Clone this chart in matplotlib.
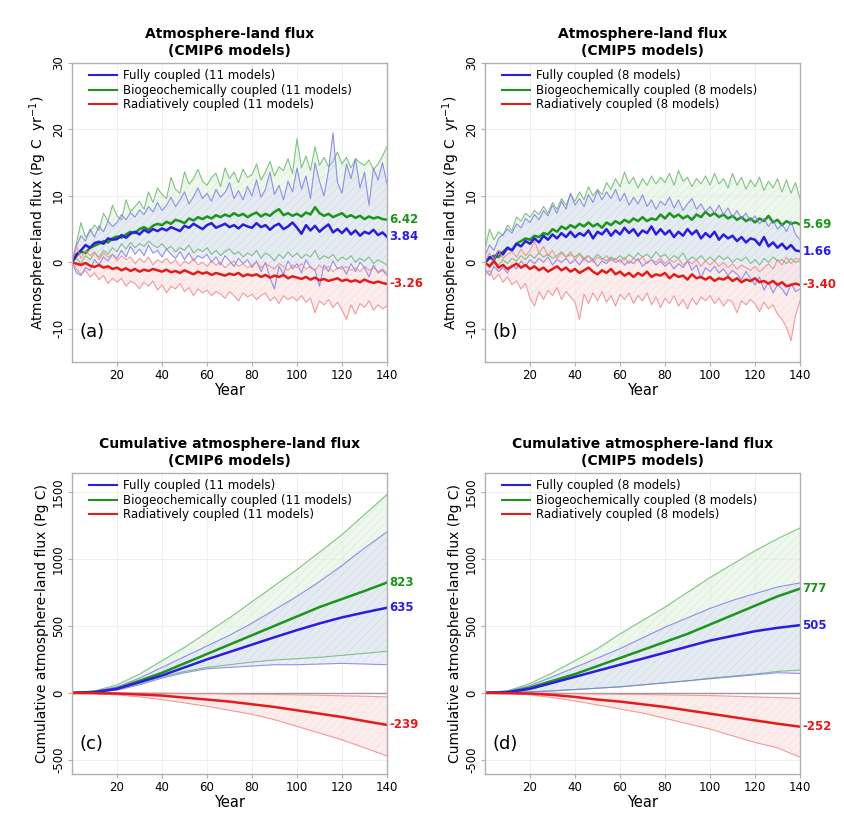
import numpy as np
import matplotlib
matplotlib.use("Agg")
import matplotlib.pyplot as plt

plt.rcParams['font.family'] = ['DejaVu Sans']
plt.rcParams['hatch.linewidth'] = 0.3

# ---------- DATA ----------
# annual flux, every 2 years (0..140)
years = list(range(0, 141, 2))

# CMIP6
fc6_mean = [0, 1.2, 1.8, 2.6, 2.2, 2.9, 3.1, 2.8, 3.6, 3.4,
            3.5, 4.1, 3.7, 4.3, 4.6, 4.2, 4.9, 4.5, 5.0, 4.7,
            5.1, 4.8, 5.3, 5.0, 4.7, 5.5, 5.2, 5.8, 5.4, 5.0,
            5.6, 5.9, 5.2, 5.5, 5.8, 5.3, 5.6, 5.1, 5.7, 5.4,
            5.2, 5.9, 5.3, 5.6, 4.9, 5.5, 5.8, 5.0, 5.4, 6.0,
            5.2, 4.3, 5.6, 4.8, 5.5, 4.6, 5.2, 5.7, 4.5, 5.0,
            4.4, 5.1, 4.2, 4.8, 4.0, 4.6, 4.3, 4.9, 4.1, 4.5,
            3.84]
bgc6_mean = [0, 1.0, 1.6, 1.4, 2.2, 2.5, 2.8, 3.2, 3.0, 3.6,
             3.9, 3.7, 4.2, 4.6, 4.4, 5.0, 5.3, 4.9, 5.5, 5.8,
             5.6, 6.1, 5.8, 6.4, 6.2, 5.9, 6.6, 6.3, 6.8, 6.5,
             6.9, 6.6, 7.1, 6.8, 7.2, 6.9, 7.4, 7.0, 7.3, 6.8,
             7.2, 7.5, 6.9, 7.3, 7.0, 7.6, 8.0, 7.1, 7.4, 7.0,
             7.3, 6.9, 7.5, 7.2, 8.3, 7.4, 7.0, 7.3, 6.8, 7.1,
             7.4, 6.8, 7.1, 6.7, 7.0, 6.5, 6.9, 6.6, 6.8, 6.5,
             6.42]
rad6_mean = [0, -0.2, -0.4, -0.1, -0.5, -0.7, -0.4, -0.8, -0.6, -1.0,
             -0.8, -1.2, -0.9, -1.3, -1.0, -1.4, -1.1, -1.3, -1.0, -1.2,
             -1.4, -1.1, -1.5, -1.3, -1.6, -1.2, -1.5, -1.8, -1.4, -1.7,
             -1.5, -1.9, -1.6, -1.8, -2.0, -1.7, -1.9, -1.6, -2.1, -1.8,
             -2.0, -1.8, -2.2, -1.9, -2.3, -2.0, -2.2, -1.9, -2.4, -2.1,
             -2.3, -2.5, -2.2, -2.6, -2.3, -2.7, -2.5, -2.8, -2.6, -2.4,
             -2.8, -2.6, -2.9, -2.7, -3.0, -2.6, -2.9, -3.1, -2.9, -3.1,
             -3.26]
fc6_max = [0, 2.5, 4.0, 3.2, 5.0, 3.8, 5.5, 4.6, 6.2, 5.4,
           6.0, 7.2, 6.4, 7.5, 6.8, 7.9, 7.2, 8.4, 7.6, 9.0,
           7.8, 8.6, 9.8, 8.4, 9.4, 10.6, 8.8, 9.9, 11.2, 9.6,
           10.4, 9.2, 11.0, 9.8, 10.5, 12.0, 9.6, 10.8, 9.4, 11.4,
           10.0, 12.4, 9.8, 11.0, 13.6, 10.2, 11.6, 9.4, 12.2, 10.6,
           14.2, 11.0, 13.0, 9.6, 15.0, 12.2, 10.0, 13.8, 19.5, 12.0,
           10.4, 14.8, 12.6, 15.6, 11.2, 13.6, 8.6, 14.2, 12.4, 15.0,
           11.8]
bgc6_max = [0, 3.0, 6.0, 3.8, 4.6, 5.6, 4.8, 7.4, 6.2, 8.6,
            7.0, 6.4, 9.4, 7.6, 8.4, 9.2, 8.0, 10.6, 9.0, 11.2,
            10.2, 9.6, 12.8, 11.0, 10.4, 13.6, 11.8, 12.6, 14.0, 12.2,
            11.6, 12.8, 13.4, 11.4, 14.2, 12.6, 13.6, 12.0, 14.0, 12.8,
            13.2, 14.8, 12.4, 13.6, 15.2, 13.0, 14.4, 13.8, 15.6, 13.4,
            18.6, 14.2, 16.0, 13.8, 17.4, 14.6, 15.8, 14.4, 15.2, 16.6,
            14.8, 15.8, 14.2, 15.6, 15.0, 14.6, 15.4, 14.0, 14.8, 16.0,
            17.4]
fc6_min = [0, -1.6, -2.0, -0.8, -1.2, 0.4, -0.4, 0.8, 0.2, 1.2,
           0.6, 1.8, 0.8, 2.4, 1.2, 2.0, 1.0, 2.6, 1.4, 1.8,
           0.8, 2.0, 1.2, 0.6, 1.6, 0.4, 1.4, 0.2, 1.0, 0.6,
           1.2, 0.0, 0.8, -0.4, 1.0, 0.2, -0.6, 0.6, -0.2, 0.4,
           -0.8, 0.2, -1.4, 0.0, -2.4, -4.0, -0.6, -1.8, 0.2, -1.0,
           -0.2, -1.6, 0.4, -0.8, -1.2, -3.6, -0.4, -1.4, 0.2, -1.0,
           -0.6, -1.8, -0.2, -1.4, 0.0, -0.8, -2.2, -0.4, -1.6, -1.2,
           -2.0]
bgc6_min = [0, 0.6, -0.2, 1.0, 0.4, 1.4, 0.8, 1.8, 1.2, 2.2,
            1.6, 2.8, 2.0, 3.0, 2.2, 2.8, 2.4, 3.2, 2.6, 2.2,
            2.8, 2.0, 2.4, 1.6, 2.2, 1.8, 2.6, 1.4, 2.0, 1.6,
            2.2, 1.2, 1.8, 1.0, 1.6, 2.0, 1.2, 1.6, 0.8, 1.4,
            1.0, 1.8, 0.6, 1.4, 1.0, 0.2, 1.2, 0.6, 1.6, 0.8,
            1.4, 0.6, 1.2, 0.8, 1.8, 0.4, 1.0, 0.6, 1.2, 0.2,
            0.8, 0.4, 1.0, 0.0, 0.6, 0.2, 0.8, -0.2, 0.4, 0.0,
            -0.4]
rad6_max = [0, 2.4, 0.6, 1.8, 1.0, 1.6, 0.4, 1.4, 0.8, 1.2,
            0.2, 1.0, 0.4, 0.8, -0.2, 0.6, 0.0, 0.8, -0.4, 0.4,
            0.0, 0.6, -0.2, 0.4, -0.6, 0.2, -0.2, 0.6, -0.4, 0.0,
            -0.6, 0.2, -0.4, 0.0, -0.8, -0.2, 0.2, -0.6, -0.2, -0.8,
            -0.4, 0.0, -0.8, -0.2, -0.6, -1.0, -0.2, -0.6, -1.2, -0.4,
            -0.8, -0.2, -1.0, -0.6, -1.2, -0.4, -1.0, -0.6, -1.4, -0.8,
            -1.0, -0.6, -1.2, -0.8, -1.4, -0.6, -1.2, -0.8, -1.4, -1.0,
            -1.6]
rad6_min = [0, -1.0, -1.8, -1.2, -2.2, -1.6, -2.6, -2.0, -3.2, -2.4,
            -3.0, -2.4, -3.6, -2.8, -3.2, -4.0, -3.0, -3.6, -2.8, -4.2,
            -3.4, -4.6, -3.6, -4.0, -3.2, -4.4, -3.8, -5.0, -4.0, -4.6,
            -4.2, -5.0, -4.4, -4.8, -5.4, -4.4, -5.0, -5.8, -4.6, -5.2,
            -4.8, -5.6, -5.0, -4.6, -5.8, -5.2, -6.2, -5.0, -5.6, -5.2,
            -5.8, -5.0, -6.0, -5.4, -7.6, -5.8, -6.4, -5.6, -6.8, -6.0,
            -7.2, -8.6, -6.4, -7.8, -6.2, -6.8, -5.8, -7.2, -6.4, -7.0,
            -6.6]

# CMIP5
fc5_mean = [0, 0.8, 0.4, 1.6, 1.2, 2.2, 1.8, 2.8, 2.4, 3.2,
            2.8, 3.6, 3.0, 4.0, 3.4, 4.2, 3.6, 4.4, 3.8, 4.6,
            3.8, 4.4, 4.0, 4.8, 3.6, 4.6, 4.2, 5.0, 4.0, 4.8,
            4.2, 5.2, 4.4, 5.0, 4.0, 4.8, 4.4, 5.4, 4.2, 5.0,
            4.2, 4.8, 3.8, 4.6, 4.0, 5.0, 4.2, 4.8, 3.6, 4.4,
            3.8, 4.6, 3.4, 4.2, 3.6, 4.0, 3.2, 3.8, 3.0, 3.6,
            3.4, 2.6, 3.8, 2.4, 3.0, 2.2, 2.8, 2.0, 2.6, 1.8,
            1.66]
bgc5_mean = [0, 0.6, 1.0, 0.8, 1.6, 2.2, 1.8, 2.8, 3.2, 3.6,
             3.4, 4.0, 3.8, 4.4, 4.2, 5.0, 4.6, 5.4, 5.0, 5.6,
             5.2, 5.8, 5.4, 6.0, 5.4, 5.8, 5.2, 6.0, 5.6, 6.2,
             5.8, 6.4, 6.0, 6.6, 6.2, 6.8, 6.2, 6.6, 6.4, 7.2,
             6.6, 7.4, 6.8, 7.2, 6.6, 7.0, 6.4, 7.2, 6.8, 7.6,
             7.0, 7.4, 6.8, 7.2, 6.6, 7.0, 6.4, 6.8, 6.2, 6.6,
             6.0, 6.6, 6.2, 7.0, 6.0, 6.4, 5.6, 6.2, 5.8, 6.0,
             5.69]
rad5_mean = [0, -0.6, 0.2, -0.8, -0.4, -1.0, -0.6, -0.2, -0.8, -0.4,
             -1.0, -0.6, -1.2, -0.8, -1.4, -1.0, -0.6, -1.2, -0.8, -1.4,
             -1.0, -1.6, -1.2, -0.8, -1.4, -1.8, -1.2, -1.6, -1.0, -1.8,
             -1.4, -2.0, -1.6, -2.2, -1.6, -2.0, -1.4, -2.2, -1.8, -2.0,
             -1.6, -2.4, -1.8, -2.2, -2.0, -2.6, -1.8, -2.4, -2.2, -2.6,
             -2.2, -2.8, -2.4, -2.6, -2.2, -2.8, -2.4, -3.0, -2.6, -2.8,
             -2.4, -3.0, -2.8, -3.2, -2.8, -3.4, -3.0, -3.6, -3.4, -3.2,
             -3.40]
fc5_max = [1.0, 2.6, 1.8, 3.6, 4.2, 5.0, 4.4, 5.8, 5.2, 6.6,
           6.0, 7.2, 6.4, 7.8, 7.0, 8.6, 7.4, 9.2, 8.0, 10.4,
           8.6, 9.6, 8.4, 10.2, 9.0, 10.8, 9.4, 10.6, 9.6, 11.0,
           9.2, 10.4, 8.6, 9.8, 8.8, 10.2, 8.4, 9.4, 8.0, 9.2,
           8.6, 9.8, 8.2, 9.4, 7.8, 8.8, 9.6, 8.0, 8.8, 7.6,
           8.4, 7.4, 8.6, 7.2, 8.2, 6.8, 7.8, 6.6, 7.4, 6.2,
           7.0, 5.8, 6.6, 5.4, 6.4, 5.0, 5.8, 4.6, 6.2, 4.2,
           3.4]
bgc5_max = [2.0, 5.0, 3.4, 4.6, 4.0, 5.6, 4.8, 6.8, 6.2, 7.4,
            6.8, 7.8, 7.2, 8.4, 7.4, 9.0, 8.0, 9.6, 8.6, 10.2,
            9.2, 10.6, 9.4, 11.4, 10.0, 11.0, 10.2, 12.0, 11.0, 12.6,
            11.4, 13.6, 11.8, 12.8, 11.2, 12.6, 11.6, 13.0, 11.8, 12.8,
            12.0, 13.4, 11.6, 13.8, 12.2, 12.8, 11.4, 12.6, 11.8, 13.0,
            11.6, 13.4, 11.8, 12.6, 11.2, 13.4, 11.6, 12.8, 11.0, 12.4,
            11.4, 12.8, 10.8, 12.2, 11.2, 12.6, 10.6, 12.4, 10.4, 12.0,
            9.6]
fc5_min = [-1.0, -2.0, -0.6, -1.4, -0.8, -1.6, -0.4, -1.0, 0.2, -0.6,
           0.4, -0.2, 0.6, 0.0, 0.8, -0.4, 0.4, 0.0, 0.6, -0.2,
           0.4, -0.4, 0.6, 0.0, 0.4, -0.6, 0.2, -0.2, 0.6, 0.0,
           0.4, -0.4, 0.2, -0.2, 0.6, -0.6, 0.0, 0.4, -0.4, 0.2,
           -0.6, 0.0, -1.0, -0.2, -0.8, 0.2, -1.2, -0.4, -2.4, -0.8,
           -1.4, -0.6, -1.6, -1.0, -2.0, -1.2, -1.8, -2.6, -1.4, -2.4,
           -3.4, -2.2, -4.2, -3.0, -4.6, -3.4, -4.0, -5.0, -3.2, -4.4,
           -4.0]
bgc5_min = [0.0, -0.8, 0.2, -0.4, 0.4, -0.2, 0.6, 0.2, 1.0, 0.4,
            1.2, 0.6, 1.4, 0.8, 1.2, 0.6, 1.0, 1.6, 0.8, 1.2,
            0.8, 1.4, 0.6, 1.0, 0.4, 1.2, 0.6, 0.2, 0.8, 0.4,
            1.0, 0.4, 1.2, 0.6, 1.4, 0.8, 1.2, 0.6, 1.6, 0.8,
            1.2, 0.4, 1.0, 0.6, 1.4, 0.2, 0.8, 0.4, 1.0, 0.2,
            0.8, 0.2, 1.0, 0.4, 0.8, 0.0, 0.6, 0.2, 0.8, -0.2,
            0.4, -0.4, 0.6, 0.0, 0.8, 0.2, 0.4, -0.2, 0.6, 0.0,
            0.2]
rad5_max = [0.0, 1.4, 0.4, 1.8, 0.6, 1.2, 1.6, 0.8, 2.0, 1.0,
            1.8, 3.2, 1.4, 2.4, 1.0, 1.8, 0.6, 1.4, 0.8, 1.6,
            0.4, 1.2, 0.2, 1.0, 0.0, 0.8, 0.4, 1.0, 0.2, 0.6,
            0.0, 0.8, -0.2, 0.6, 0.2, 0.8, -0.2, 0.4, 0.0, 0.6,
            -0.2, 0.4, 0.0, 0.6, -0.4, 0.2, -0.2, 0.4, -0.6, 0.2,
            -0.4, 0.2, -0.6, 0.0, -0.8, -0.2, -1.0, -0.4, -0.8, -1.2,
            -0.6, -1.4, -0.8, -0.2, -1.0, 0.4, -0.4, 0.8, -0.2, 0.6,
            0.4]
rad5_min = [-2.0, -1.2, -2.6, -1.8, -3.0, -2.2, -3.4, -2.8, -4.0, -3.2,
            -5.4, -6.6, -4.4, -5.6, -4.2, -5.0, -3.8, -5.6, -4.4, -5.2,
            -6.0, -8.6, -4.8, -6.2, -4.6, -5.8, -4.4, -6.0, -5.0, -6.6,
            -4.8, -5.6, -4.6, -6.2, -5.0, -5.8, -4.6, -6.4, -5.2, -6.8,
            -5.4, -6.2, -5.0, -6.6, -5.6, -7.0, -5.4, -6.4, -5.2, -5.8,
            -5.0, -6.2, -5.4, -6.6, -5.6, -6.0, -7.6, -5.8, -6.4, -5.6,
            -6.2, -7.4, -6.0, -7.0, -6.4, -7.8, -8.6, -9.8, -11.8, -8.0,
            -5.8]

# cumulative flux, every 10 years (0..140)
cyears = list(range(0, 141, 10))

cfc6_mean = [0, 5, 30, 80, 130, 190, 250, 305, 360, 415, 468, 518, 563, 600, 635]
cbgc6_mean = [0, 8, 35, 90, 150, 220, 290, 360, 430, 500, 570, 640, 700, 760, 823]
crad6_mean = [0, -2, -5, -12, -20, -35, -50, -65, -85, -105, -130, -155, -180, -210, -239]
cfc6_max = [0, 10, 45, 110, 190, 270, 350, 430, 520, 620, 720, 830, 950, 1080, 1200]
cbgc6_max = [0, 15, 60, 140, 240, 340, 450, 560, 680, 800, 920, 1050, 1180, 1330, 1480]
cfc6_min = [0, 5, 20, 60, 110, 150, 180, 190, 200, 210, 210, 215, 220, 215, 210]
cbgc6_min = [0, 5, 25, 70, 120, 160, 190, 210, 230, 245, 255, 265, 280, 295, 310]
crad6_max = [0, 0, 0, 0, -2, -5, -5, -8, -10, -12, -15, -18, -22, -25, -30]
crad6_min = [0, -5, -15, -30, -50, -75, -100, -130, -160, -200, -250, -300, -350, -410, -470]

cfc5_mean = [0, 5, 30, 75, 120, 165, 210, 255, 300, 345, 390, 425, 460, 485, 505]
cbgc5_mean = [0, 8, 40, 90, 140, 200, 260, 320, 380, 440, 510, 580, 650, 720, 777]
crad5_mean = [0, -2, -5, -15, -30, -50, -65, -85, -105, -130, -155, -180, -205, -230, -252]
cfc5_max = [0, 10, 55, 120, 190, 260, 330, 410, 490, 560, 630, 690, 740, 790, 820]
cbgc5_max = [0, 15, 70, 150, 240, 330, 440, 540, 640, 750, 860, 960, 1060, 1150, 1230]
cfc5_min = [0, 3, 8, 15, 25, 35, 45, 60, 75, 90, 105, 120, 135, 150, 145]
cbgc5_min = [0, 3, 8, 15, 25, 35, 45, 60, 75, 90, 110, 125, 140, 160, 170]
crad5_max = [0, 0, 0, -2, -5, -8, -10, -12, -15, -18, -20, -25, -30, -35, -40]
crad5_min = [0, -5, -15, -35, -60, -90, -120, -150, -190, -230, -270, -320, -370, -410, -480]

# ---------- STYLE ----------
BLUE = '#2a1ddb'
GREEN = '#1b951b'
RED = '#e21b1b'
BLUE_L = '#7f7fe8'
GREEN_L = '#6fb86f'
RED_L = '#f08a8a'
FILL = {BLUE: '#dfe4f6', GREEN: '#e2f2e0', RED: '#fbe2e2'}
HATCH = {BLUE: '#c2c8ee', GREEN: '#c4e2c4', RED: '#f4c4c4'}
GRID = '#ededed'
SPINE = '#b0b0b0'


def draw_group(ax, x, lo, hi, mean, col, col_l, lw_mean):
    ax.fill_between(x, lo, hi, facecolor=FILL[col], alpha=0.6,
                    edgecolor=HATCH[col], hatch='////', linewidth=0)
    ax.plot(x, hi, color=col_l, lw=0.8, alpha=0.85)
    ax.plot(x, lo, color=col_l, lw=0.8, alpha=0.85)
    ax.plot(x, mean, color=col, lw=lw_mean)


def style_axes(ax, yticks, ylim):
    ax.set_xlim(0, 140)
    ax.set_ylim(*ylim)
    ax.set_xticks([20, 40, 60, 80, 100, 120, 140])
    ax.set_yticks(yticks)
    ax.set_yticklabels([str(t) for t in yticks], rotation=90, va='center')
    ax.tick_params(labelsize=8.5, length=3, color=SPINE, pad=2)
    ax.grid(True, color=GRID, lw=0.6)
    ax.set_axisbelow(True)
    for s in ax.spines.values():
        s.set_color(SPINE)
        s.set_linewidth(1.0)
    ax.set_xlabel('Year', fontsize=10.5, labelpad=1)


def legend_and_labels(ax, n, vals, ys, letter):
    ax.plot([], [], color=BLUE, lw=1.5, label=f'Fully coupled ({n} models)')
    ax.plot([], [], color=GREEN, lw=1.5, label=f'Biogeochemically coupled ({n} models)')
    ax.plot([], [], color=RED, lw=1.5, label=f'Radiatively coupled ({n} models)')
    ax.legend(loc='upper left', frameon=False, fontsize=8.5, handlelength=2.4,
              handletextpad=0.5, labelspacing=0.15, borderaxespad=0.1,
              bbox_to_anchor=(0.035, 1.0))
    for v, y, c in zip(vals, ys, [GREEN, BLUE, RED]):
        ax.text(141, y, v, color=c, fontsize=8.5, fontweight='bold',
                va='center', ha='left', clip_on=False)
    ax.text(0.025, 0.1, letter, transform=ax.transAxes, fontsize=13, va='center')


fig = plt.figure(figsize=(8.45, 8.16), dpi=100)

pos = {
    'a': [72 / 845, 1 - 362 / 816, 315 / 845, 299 / 816],
    'b': [485 / 845, 1 - 362 / 816, 315 / 845, 299 / 816],
    'c': [72 / 845, 1 - 774 / 816, 315 / 845, 301 / 816],
    'd': [485 / 845, 1 - 774 / 816, 315 / 845, 301 / 816],
}

# (a)
ax = fig.add_axes(pos['a'])
draw_group(ax, years, bgc6_min, bgc6_max, bgc6_mean, GREEN, GREEN_L, 1.8)
draw_group(ax, years, fc6_min, fc6_max, fc6_mean, BLUE, BLUE_L, 1.8)
draw_group(ax, years, rad6_min, rad6_max, rad6_mean, RED, RED_L, 1.8)
style_axes(ax, [-10, 0, 10, 20, 30], (-15, 30))
ax.set_title('Atmosphere-land flux\n(CMIP6 models)', fontsize=10, fontweight='bold', pad=6)
ax.set_ylabel('Atmosphere-land flux (Pg C  yr$^{-1}$)', fontsize=10, labelpad=2)
legend_and_labels(ax, 11, ['6.42', '3.84', '-3.26'], [6.42, 3.84, -3.26], '(a)')

# (b)
ax = fig.add_axes(pos['b'])
draw_group(ax, years, bgc5_min, bgc5_max, bgc5_mean, GREEN, GREEN_L, 1.8)
draw_group(ax, years, fc5_min, fc5_max, fc5_mean, BLUE, BLUE_L, 1.8)
draw_group(ax, years, rad5_min, rad5_max, rad5_mean, RED, RED_L, 1.8)
style_axes(ax, [-10, 0, 10, 20, 30], (-15, 30))
ax.set_title('Atmosphere-land flux\n(CMIP5 models)', fontsize=10, fontweight='bold', pad=6)
ax.set_ylabel('Atmosphere-land flux (Pg C  yr$^{-1}$)', fontsize=10, labelpad=2)
legend_and_labels(ax, 8, ['5.69', '1.66', '-3.40'], [5.69, 1.66, -3.40], '(b)')

# (c)
ax = fig.add_axes(pos['c'])
ax.axhline(0, color='#999999', lw=1.0)
draw_group(ax, cyears, cbgc6_min, cbgc6_max, cbgc6_mean, GREEN, GREEN_L, 1.8)
draw_group(ax, cyears, cfc6_min, cfc6_max, cfc6_mean, BLUE, BLUE_L, 1.8)
draw_group(ax, cyears, crad6_min, crad6_max, crad6_mean, RED, RED_L, 1.8)
style_axes(ax, [-500, 0, 500, 1000, 1500], (-605, 1640))
ax.set_title('Cumulative atmosphere-land flux\n(CMIP6 models)', fontsize=10, fontweight='bold', pad=6)
ax.set_ylabel('Cumulative atmosphere-land flux (Pg C)', fontsize=10, labelpad=2)
legend_and_labels(ax, 11, ['823', '635', '-239'], [823, 635, -239], '(c)')

# (d)
ax = fig.add_axes(pos['d'])
ax.axhline(0, color='#999999', lw=1.0)
draw_group(ax, cyears, cbgc5_min, cbgc5_max, cbgc5_mean, GREEN, GREEN_L, 1.8)
draw_group(ax, cyears, cfc5_min, cfc5_max, cfc5_mean, BLUE, BLUE_L, 1.8)
draw_group(ax, cyears, crad5_min, crad5_max, crad5_mean, RED, RED_L, 1.8)
style_axes(ax, [-500, 0, 500, 1000, 1500], (-605, 1640))
ax.set_title('Cumulative atmosphere-land flux\n(CMIP5 models)', fontsize=10, fontweight='bold', pad=6)
ax.set_ylabel('Cumulative atmosphere-land flux (Pg C)', fontsize=10, labelpad=2)
legend_and_labels(ax, 8, ['777', '505', '-252'], [777, 505, -252], '(d)')

fig.savefig('out.png', dpi=100, facecolor='white')
